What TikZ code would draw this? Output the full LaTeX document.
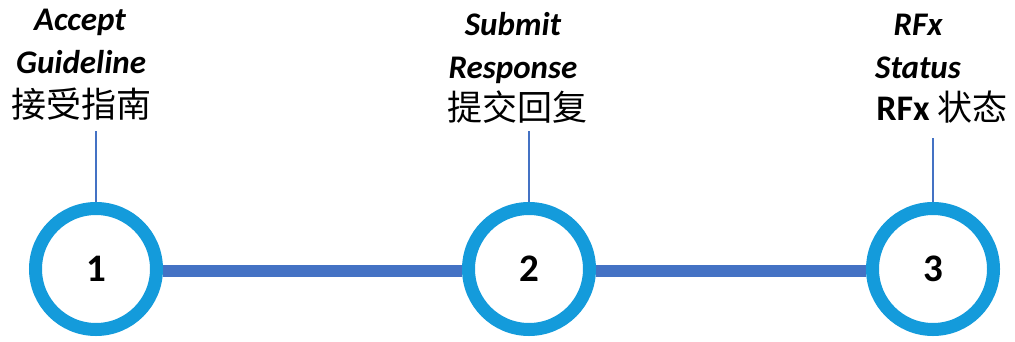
\documentclass[tikz,border=0pt]{standalone}
\usepackage{fontspec}
\setmainfont{Carlito}
\newfontfamily\cjk{Noto Sans CJK SC}
\definecolor{ringblue}{HTML}{149BDB}
\definecolor{linkblue}{HTML}{4472C4}
\begin{document}
\begin{tikzpicture}[x=1pt,y=-1pt,
  ring/.style={circle,draw=ringblue,line width=13pt,fill=white,minimum size=121pt,inner sep=0pt,font=\fontsize{39}{42}\selectfont\bfseries},
  link/.style={draw=linkblue,line width=12pt},
  stem/.style={draw=linkblue,line width=1.1pt},
  en/.style={anchor=base,inner sep=0pt,font=\fontsize{33}{36}\selectfont\bfseries\itshape},
  zh/.style={anchor=base,inner sep=0pt,font=\fontsize{35}{38}\selectfont\cjk}]
\useasboundingbox (0,0) rectangle (1015,341);
\node[ring] (c1) at (96,269) {\raisebox{-3pt}{1}};
\node[ring] (c2) at (529,269) {\raisebox{-3pt}{2}};
\node[ring] (c3) at (933,269) {\raisebox{-3pt}{3}};
\draw[link] ([yshift=-2pt]c1.east) -- ([yshift=-2pt]c2.west);
\draw[link] ([yshift=-2pt]c2.east) -- ([yshift=-2pt]c3.west);
\coordinate (t1) at (96,131);
\coordinate (t2) at (529,131);
\coordinate (t3) at (933,138);
\draw[stem] (t1) -- (c1.north);
\draw[stem] (t2) -- (c2.north);
\draw[stem] (t3) -- (c3.north);
\node[en] (a1) at (80,30) {Accept};
\node[en] (a2) at (81,73) {Guideline};
\node[zh] (a3) at (82,117) {接受指南};
\node[en] (b1) at (513,35) {Submit};
\node[en] (b2) at (513,78) {Response};
\node[zh] (b3) at (517,120) {提交回复};
\node[en] (d1) at (918,35) {RFx};
\node[en] (d2) at (918,78) {Status};
\node[zh] (d3) at (942,120) {{\fontsize{36}{38}\selectfont\rmfamily\bfseries RFx} 状态};
\end{tikzpicture}
\end{document}
